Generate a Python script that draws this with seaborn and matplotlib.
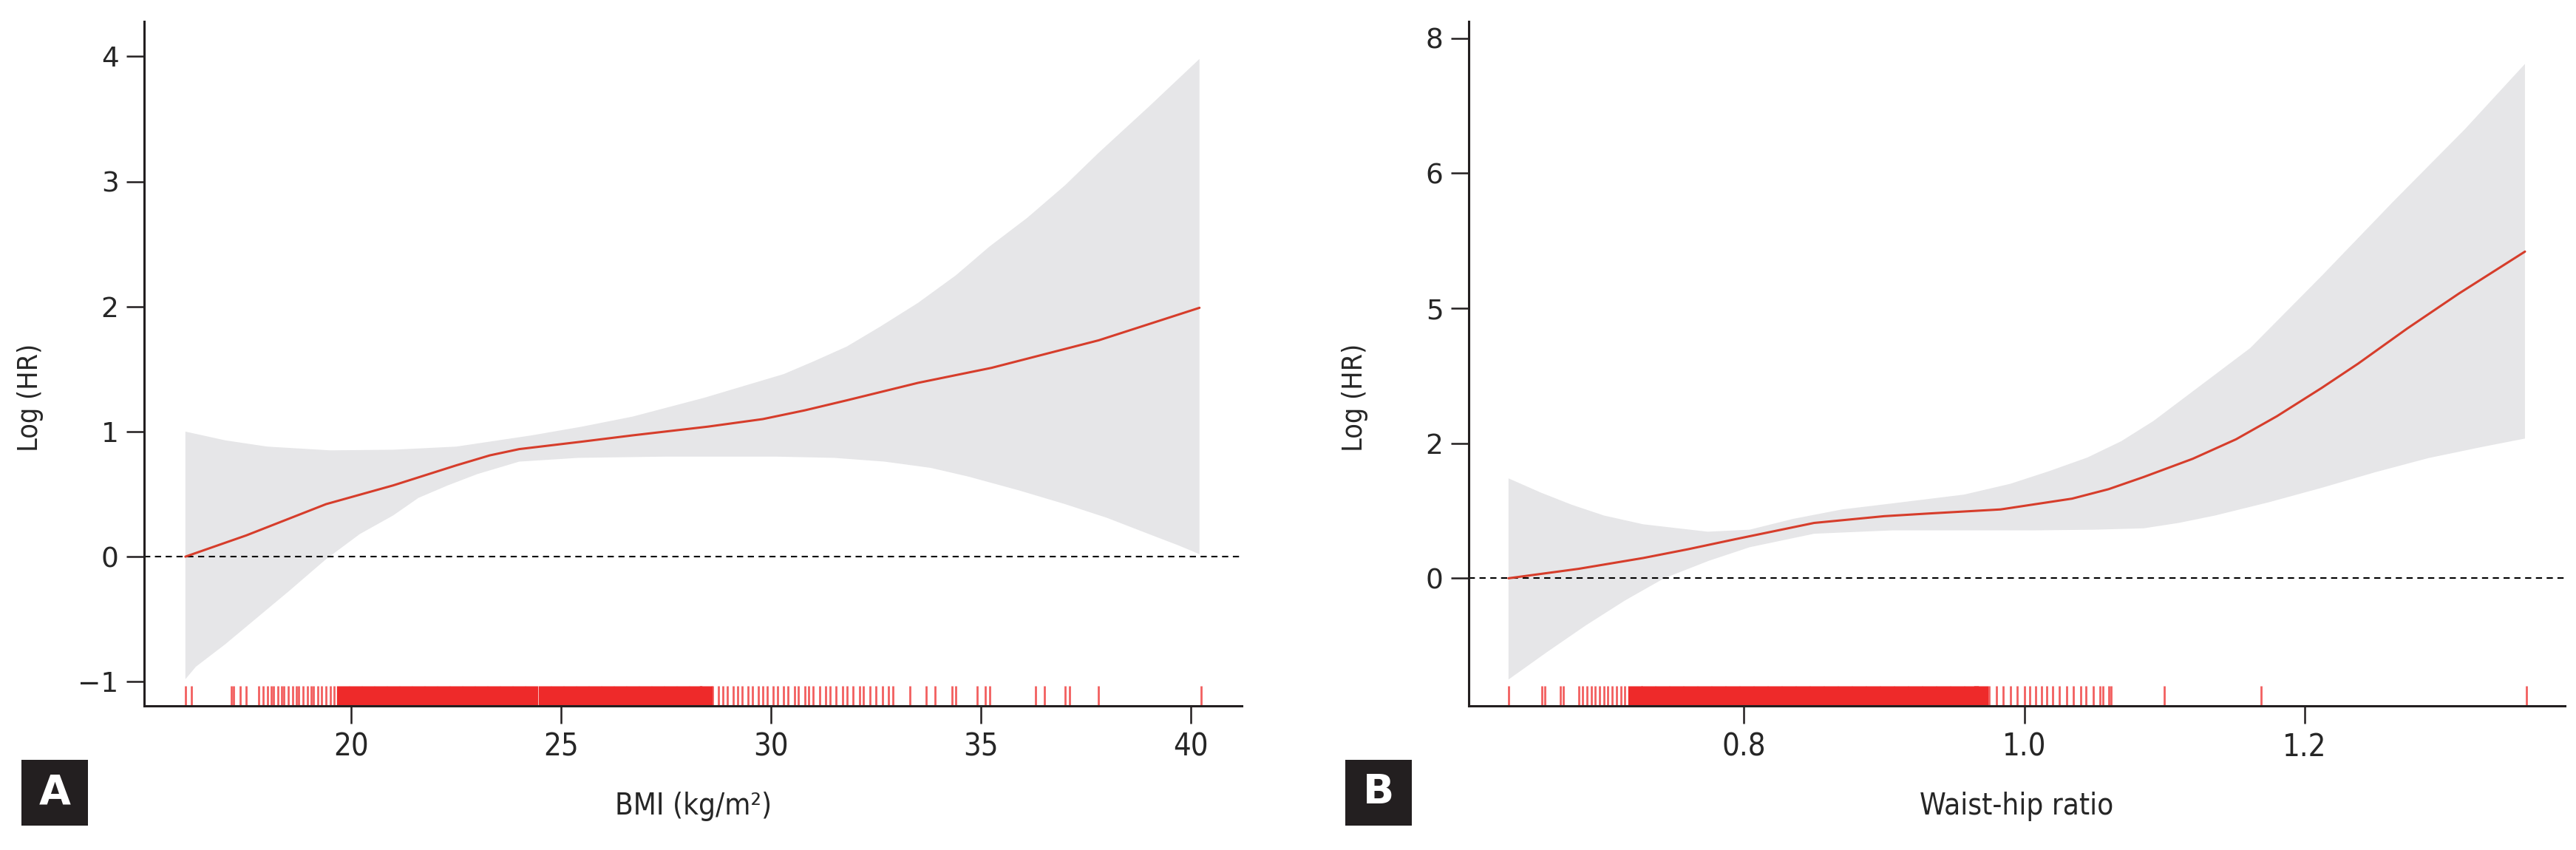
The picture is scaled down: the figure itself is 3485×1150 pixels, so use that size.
import matplotlib
matplotlib.use("Agg")
import numpy as np
import matplotlib.pyplot as plt
import seaborn as sns
from matplotlib.patches import Rectangle

# ---- panel A: BMI ----
bmi_x = [16.05, 17.5, 19.4, 21.0, 22.5, 23.3, 24.0, 25.5, 26.7, 28.5, 29.8, 30.8, 31.8, 33.5, 35.25, 37.8, 40.2]
bmi_fit = [0.0, 0.17, 0.42, 0.57, 0.73, 0.81, 0.86, 0.92, 0.97, 1.04, 1.10, 1.17, 1.25, 1.39, 1.51, 1.73, 1.99]
bmi_up_x = [16.05, 17.0, 18.0, 19.5, 21.0, 22.5, 24.3, 25.5, 26.7, 28.4, 30.3, 31.0, 31.8, 32.6,
            33.5, 34.4, 35.2, 36.1, 37.0, 37.8, 39.0, 40.2]
bmi_up_y = [1.0, 0.93, 0.88, 0.85, 0.855, 0.88, 0.97, 1.04, 1.12, 1.27, 1.46, 1.56, 1.68, 1.84,
            2.03, 2.25, 2.48, 2.71, 2.97, 3.23, 3.60, 3.98]
bmi_lo_x = [16.05, 16.3, 17.0, 17.5, 18.5, 19.4, 20.2, 21.0, 21.6, 22.3, 23.0, 24.0, 25.4, 27.5,
            30.1, 31.5, 32.7, 33.8, 34.7, 35.9, 37.0, 38.0, 39.0, 39.7, 40.2]
bmi_lo_y = [-0.98, -0.88, -0.70, -0.56, -0.28, -0.02, 0.18, 0.33, 0.47, 0.57, 0.66, 0.76, 0.79, 0.80,
            0.80, 0.79, 0.76, 0.71, 0.64, 0.53, 0.42, 0.31, 0.18, 0.09, 0.02]
bmi_rug = [16.05, 16.2, 17.15, 17.2, 17.35, 17.5, 17.8, 17.9, 18.0, 18.1, 18.15, 18.25, 18.35,
           18.4, 18.5, 18.6, 18.7, 18.75, 18.85, 18.95, 19.05, 19.1, 19.2, 19.3, 19.4, 19.5, 19.6,
           28.6, 28.75, 28.85, 28.95, 29.1, 29.2, 29.3, 29.45, 29.55, 29.7, 29.8, 29.9, 30.05,
           30.15, 30.3, 30.4, 30.55, 30.65, 30.8, 30.9, 31.0, 31.15, 31.3, 31.4, 31.55, 31.7,
           31.8, 31.95, 32.1, 32.2, 32.35, 32.5, 32.65, 32.8, 32.9, 33.3, 33.7, 33.9, 34.3, 34.4,
           34.9, 35.1, 35.2, 36.3, 36.5, 37.0, 37.1, 37.8, 40.24]
bmi_rug_dense = [19.8, 20.1, 20.4, 20.7, 21.0, 21.3, 21.6, 21.9, 22.2, 22.5, 22.8, 23.1, 23.4,
                 23.7, 24.0, 24.3, 24.6, 24.9, 25.2, 25.5, 25.8, 26.1, 26.4, 26.7, 27.0, 27.3,
                 27.6, 27.9, 28.2, 28.45]
bmi_ticks = [20, 25, 30, 35, 40]
bmi_yticks = [-1, 0, 1, 2, 3, 4]
bmi_ylabels = ["\u22121", "0", "1", "2", "3", "4"]

# ---- panel B: waist-hip ratio ----
whr_x = [0.632, 0.682, 0.728, 0.76, 0.794, 0.85, 0.90, 0.932, 0.983, 1.034, 1.06, 1.085, 1.12,
         1.151, 1.18, 1.212, 1.238, 1.273, 1.31, 1.357]
whr_fit = [0.0, 0.14, 0.30, 0.43, 0.58, 0.82, 0.92, 0.96, 1.02, 1.18, 1.32, 1.50, 1.77, 2.06,
           2.40, 2.82, 3.18, 3.70, 4.22, 4.84]
whr_up_x = [0.632, 0.655, 0.677, 0.70, 0.728, 0.774, 0.804, 0.835, 0.870, 0.91, 0.957, 0.99, 1.018,
            1.045, 1.069, 1.092, 1.115, 1.161, 1.212, 1.263, 1.314, 1.357]
whr_up_y = [1.48, 1.27, 1.09, 0.93, 0.80, 0.69, 0.72, 0.88, 1.02, 1.12, 1.24, 1.40, 1.59, 1.79,
            2.03, 2.33, 2.69, 3.41, 4.48, 5.58, 6.65, 7.62]
whr_lo_x = [0.632, 0.659, 0.687, 0.715, 0.743, 0.775, 0.804, 0.850, 0.906, 1.008, 1.05, 1.085,
            1.11, 1.136, 1.175, 1.212, 1.25, 1.288, 1.325, 1.357]
whr_lo_y = [-1.50, -1.10, -0.70, -0.33, 0.0, 0.26, 0.46, 0.66, 0.71, 0.71, 0.72, 0.74,
            0.82, 0.93, 1.13, 1.34, 1.57, 1.78, 1.94, 2.07]
whr_rug = [0.632, 0.656, 0.658, 0.669, 0.671, 0.682, 0.685, 0.688, 0.691, 0.694, 0.697, 0.700,
           0.703, 0.706, 0.709, 0.712, 0.715, 0.975, 0.980, 0.985, 0.990, 0.995, 1.0, 1.004,
           1.008, 1.012, 1.016, 1.020, 1.025, 1.030, 1.035, 1.040, 1.044, 1.049, 1.054, 1.056,
           1.060, 1.062, 1.10, 1.169, 1.358]
whr_rug_dense = [0.722, 0.732, 0.742, 0.752, 0.762, 0.772, 0.782, 0.792, 0.802, 0.812, 0.822,
                 0.832, 0.842, 0.852, 0.862, 0.872, 0.882, 0.892, 0.902, 0.912, 0.922, 0.932,
                 0.942, 0.952, 0.962, 0.969]
whr_ticks = [0.8, 1.0, 1.2]
whr_yticks = [0, 2, 4, 6, 8]
whr_ylabels = ["0", "2", "5", "6", "8"]

sns.set_style("ticks")
plt.rcParams["font.family"] = ["DejaVu Sans"]

LINE = "#d63d2b"
BAND = "#e6e6e8"
RUG = "#ee2a2a"
INK = "#231f20"

fig = plt.figure(figsize=(34.85, 11.5), dpi=100)


def panel(rect, x, fit, ux, uy, lx, ly, rug, rug_dense, dense_w, xlim, ylim,
          xticks, xticklabels, yticks, yticklabels, xlabel):
    ax = fig.add_axes(rect)
    ax.fill(np.r_[ux, lx[::-1]], np.r_[uy, ly[::-1]], color=BAND, lw=0, zorder=1)
    ax.axhline(0, color="black", lw=1.5, ls=(0, (4, 3)), zorder=2)
    sns.lineplot(x=x, y=fit, color=LINE, linewidth=2.2, ax=ax, zorder=3)
    sns.rugplot(x=rug_dense, height=0.029, color=RUG, linewidth=dense_w, alpha=1, ax=ax,
                expand_margins=False)
    sns.rugplot(x=rug, height=0.029, color=RUG, linewidth=2.0, alpha=0.75, ax=ax,
                expand_margins=False)
    ax.set_xlim(*xlim)
    ax.set_ylim(*ylim)
    ax.set_xticks(xticks)
    ax.set_xticklabels(xticklabels, fontsize=30, fontstretch="condensed")
    ax.set_yticks(yticks)
    ax.set_yticklabels(yticklabels, fontsize=27)
    ax.tick_params(length=17, width=1.8, color=INK, pad=8)
    sns.despine(ax=ax)
    for s in ("left", "bottom"):
        ax.spines[s].set_linewidth(2.2)
        ax.spines[s].set_color(INK)
    ax.set_xlabel(xlabel, fontsize=29, fontstretch="condensed")
    ax.set_ylabel("Log (HR)", fontsize=27, fontstretch="condensed")
    ax.xaxis.set_label_coords(0.5, -0.125)
    ax.yaxis.set_label_coords(-0.092, 0.45)
    return ax


panel([0.0560, 0.1696, 0.4261, 0.8052], bmi_x, bmi_fit, bmi_up_x, bmi_up_y, bmi_lo_x, bmi_lo_y,
      bmi_rug, bmi_rug_dense, 12.5, (15.07, 41.21), (-1.193, 4.28),
      bmi_ticks, [str(t) for t in bmi_ticks], bmi_yticks, bmi_ylabels, "BMI (kg/m\u00b2)")
panel([0.5702, 0.1696, 0.4255, 0.8052], whr_x, whr_fit, whr_up_x, whr_up_y, whr_lo_x, whr_lo_y,
      whr_rug, whr_rug_dense, 14.0, (0.6037, 1.3855), (-1.89, 8.25),
      whr_ticks, ["0.8", "1.0", "1.2"], whr_yticks, whr_ylabels, "Waist-hip ratio")

# panel letters in black boxes
for lab, x0 in (("A", 29), ("B", 1820)):
    fig.patches.append(Rectangle((x0 / 3485, 0.029), 90 / 3485, 0.077, transform=fig.transFigure,
                                 facecolor=INK, edgecolor="none"))
    fig.text((x0 + 45) / 3485, 0.0675, lab, color="white", fontsize=40, fontweight="bold",
             ha="center", va="center")

fig.savefig("out.png", dpi=100)
